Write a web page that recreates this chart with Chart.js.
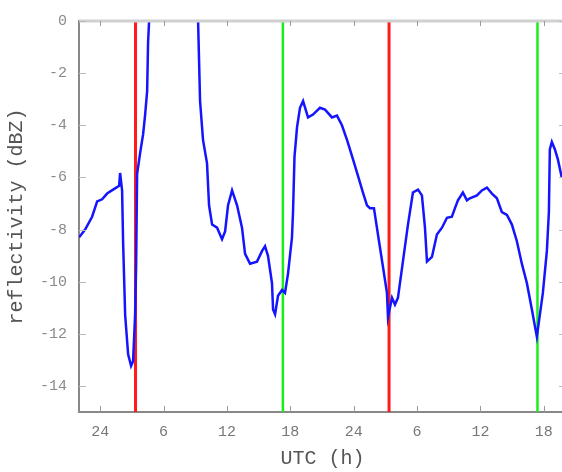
<!DOCTYPE html>
<html>
<head>
<meta charset="utf-8">
<script src="https://cdn.jsdelivr.net/npm/chart.js@4/dist/chart.umd.min.js"></script>
<style>
  html, body { margin: 0; padding: 0; background: #fff; overflow: hidden; }
  #wrap { width: 568px; height: 472px; }
</style>
</head>
<body>
<div id="wrap"><canvas id="chart" width="568" height="472"></canvas></div>
<script>
// hours since midnight of day 1 (negative = previous evening)
const hours = [
  -1.99, -1.42, -0.76, -0.28, 0.19, 0.66, 1.23, 1.80, 1.89, 2.08,
  2.18, 2.37, 2.65, 2.93, 3.12, 3.31, 3.41, 3.50, 3.78, 4.07,
  4.26, 4.45, 4.54, 4.64, 6.90, 9.27, 9.46, 9.74, 10.12, 10.22,
  10.31, 10.60, 11.07, 11.54, 11.83, 12.11, 12.49, 12.96, 13.43, 13.72,
  14.19, 14.85, 15.33, 15.61, 15.89, 16.27, 16.37, 16.56, 16.84, 17.22,
  17.50, 17.79, 18.16, 18.26, 18.40, 18.64, 18.92, 19.21, 19.68, 20.15,
  20.81, 21.29, 21.95, 22.42, 22.89, 23.37, 23.94, 24.41, 24.88, 25.26,
  25.54, 25.92, 26.30, 26.77, 27.15, 27.25, 27.63, 27.91, 28.19, 28.67,
  29.14, 29.61, 30.09, 30.46, 30.75, 30.94, 31.41, 31.88, 32.36, 32.83,
  33.30, 33.59, 33.87, 34.34, 34.72, 35.00, 35.67, 36.14, 36.61, 37.09,
  37.56, 38.03, 38.51, 38.98, 39.45, 39.92, 40.40, 40.87, 41.34, 41.53,
  41.91, 42.29, 42.48, 42.57, 42.76, 43.05, 43.33, 43.71
];
// reflectivity in dBZ (null = off scale, above 0)
const dbz = [
  -8.30, -8.00, -7.51, -6.92, -6.84, -6.62, -6.47, -6.32, -5.83, -6.50,
  -8.56, -11.29, -12.79, -13.23, -13.05, -11.29, -9.31, -5.87, -5.08, -4.34,
  -3.59, -2.69, -0.82, 0.04, null, 0.04, -3.07, -4.56, -5.46, -6.32,
  -7.07, -7.81, -7.93, -8.37, -8.07, -7.07, -6.50, -7.07, -7.93, -8.93,
  -9.31, -9.23, -8.82, -8.64, -9.01, -10.06, -11.07, -11.25, -10.54, -10.32,
  -10.43, -9.68, -8.30, -7.33, -5.20, -4.07, -3.33, -3.07, -3.70, -3.59,
  -3.33, -3.40, -3.70, -3.63, -4.00, -4.56, -5.31, -5.94, -6.58, -7.07,
  -7.18, -7.18, -8.19, -9.42, -10.43, -11.36, -10.62, -10.88, -10.62, -9.20,
  -7.81, -6.58, -6.47, -6.69, -7.93, -9.23, -9.05, -8.19, -7.93, -7.55,
  -7.51, -7.18, -6.88, -6.58, -6.88, -6.80, -6.69, -6.50, -6.39, -6.62,
  -6.80, -7.33, -7.44, -7.81, -8.45, -9.31, -10.06, -11.07, -12.11, -11.55,
  -10.43, -8.82, -7.33, -4.93, -4.64, -4.93, -5.31, -6.02
];

// sunrise (red) and sunset (green) times
const redHours = [3.35, 27.35];
const greenHours = [17.3, 41.4];

const xTicks = [0, 6, 12, 18, 24, 30, 36, 42];
const xTickLabels = ['24', '6', '12', '18', '24', '6', '12', '18'];
const yTicks = [-14, -12, -10, -8, -6, -4, -2, 0];

const xMin = -2, xMax = 44.1;
const yMin = -15, yMax = 0;

const series = hours.map((h, i) => ({ x: h, y: dbz[i] }));

function vline(h) {
  return [{ x: h, y: yMin }, { x: h, y: yMax }];
}

const datasets = [{
  data: series,
  borderColor: '#1414ff',
  borderWidth: 2.5,
  pointRadius: 0,
  tension: 0,
}];
redHours.forEach((h) => {
  datasets.push({ data: vline(h), borderColor: '#ff1a1a', borderWidth: 3, pointRadius: 0 });
});
greenHours.forEach((h) => {
  datasets.push({ data: vline(h), borderColor: '#1aee1a', borderWidth: 2.5, pointRadius: 0 });
});

// short inward tick marks plus top/right frame
const frameTicks = {
  id: 'frameTicks',
  afterDraw(chart) {
    const { ctx, chartArea: a, scales: { x, y } } = chart;
    ctx.save();
    ctx.strokeStyle = '#d0d0d0';
    ctx.lineWidth = 3;
    ctx.beginPath();
    ctx.moveTo(a.left, a.top);
    ctx.lineTo(a.right, a.top);
    ctx.lineTo(a.right, a.bottom);
    ctx.stroke();

    ctx.lineWidth = 1;
    ctx.strokeStyle = '#999';
    xTicks.forEach((t) => {
      const px = Math.round(x.getPixelForValue(t)) + 0.5;
      ctx.beginPath();
      ctx.moveTo(px, a.bottom);
      ctx.lineTo(px, a.bottom - 6);
      ctx.moveTo(px, a.top);
      ctx.lineTo(px, a.top + 5);
      ctx.stroke();
    });
    ctx.strokeStyle = '#bbb';
    yTicks.forEach((t) => {
      const py = Math.round(y.getPixelForValue(t)) + 0.5;
      ctx.beginPath();
      ctx.moveTo(a.left, py);
      ctx.lineTo(a.left + 7, py);
      ctx.moveTo(a.right, py);
      ctx.lineTo(a.right - 7, py);
      ctx.stroke();
    });
    ctx.restore();
  }
};

const tickFont = { family: 'Liberation Mono', size: 15 };
const titleFont = { family: 'Liberation Mono', size: 20 };

new Chart(document.getElementById('chart'), {
  type: 'line',
  data: { datasets },
  options: {
    responsive: false,
    animation: false,
    layout: { padding: { top: 11, right: 2, left: 0, bottom: 0 } },
    plugins: { legend: { display: false }, tooltip: { enabled: false } },
    scales: {
      x: {
        type: 'linear',
        min: xMin,
        max: xMax,
        afterBuildTicks: (s) => { s.ticks = xTicks.map((v) => ({ value: v })); },
        afterFit: (s) => { s.height = 60; },
        grid: { drawOnChartArea: false, drawTicks: false },
        border: { color: '#888', width: 2 },
        ticks: {
          font: tickFont,
          color: '#777',
          padding: 11,
          maxRotation: 0,
          autoSkip: false,
          callback: (v) => xTickLabels[xTicks.indexOf(v)],
        },
        title: {
          display: true,
          text: 'UTC (h)',
          font: titleFont,
          color: '#555',
          padding: { top: 0, bottom: 1 },
        },
      },
      y: {
        type: 'linear',
        min: yMin,
        max: yMax,
        afterBuildTicks: (s) => { s.ticks = yTicks.map((v) => ({ value: v })); },
        afterFit: (s) => { s.width = 79; },
        grid: { drawOnChartArea: false, drawTicks: false },
        border: { color: '#888', width: 2 },
        ticks: {
          font: tickFont,
          color: '#8a8a8a',
          padding: 12,
          autoSkip: false,
          callback: (v) => String(v),
        },
        title: {
          display: true,
          text: 'reflectivity (dBZ)',
          font: titleFont,
          color: '#555',
          padding: { top: 5, bottom: 0 },
        },
      },
    },
  },
  plugins: [frameTicks],
});
</script>
</body>
</html>
